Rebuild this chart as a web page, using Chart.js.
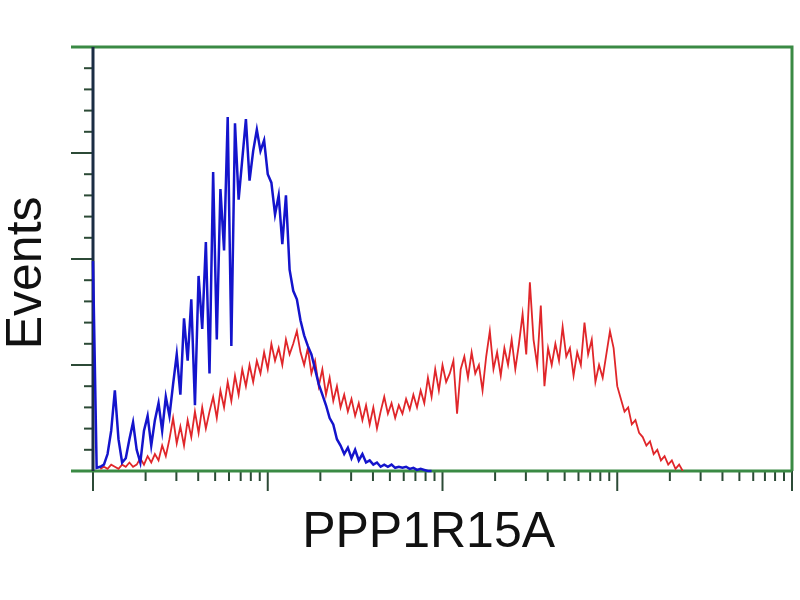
<!DOCTYPE html>
<html>
<head>
<meta charset="utf-8">
<script src="https://cdn.jsdelivr.net/npm/chart.js@4.4.1/dist/chart.umd.min.js"></script>
<style>
html,body{margin:0;padding:0;background:#fff;}
#wrap{width:800px;height:600px;}
</style>
</head>
<body>
<div id="wrap"><canvas id="facs" width="800" height="600"></canvas></div>
<script>
// histogram channels: 48 per decade, 4 decades
const channelsPerDecade = 48
const decades = [0, 1, 2, 3, 4]
const minorSteps = [2, 3, 4, 5, 6, 7, 8, 9]
const yMajor = [0, 50, 100, 150, 200]
const yMinorStep = 10

// control (blue), starts at channel 0
const blueStart = 0
const blueCounts = [99,1.5,2,3,8,19,38,15,4,6,
  15,23,10,4,19,26,12,24,32,19,
  35,26,41,55,36,72,52,81,31,92,
  67,108,46,141,62,133,104,167,59,164,
  128,147,166,137,151,161,151,156,140,136,
  121,130,107,130,95,85,81,71,64,59,
  55,48,41,36,31,25,22,15,12,8,
  11,6,10,5,8,4,5,3,4,2,
  3,2,3,1.5,2,1.5,2,1,1.5,0.5,
  1,0.5,0,0]

// PPP1R15A (red), starts at channel 2
const redStart = 2
const redCounts = [1,2,1,3,2,1,3,2,
  4,2,3,6,3,7,4,8,5,12,
  7,15,25,13,21,12,24,16,28,18,
  30,20,28,35,25,38,30,42,33,45,
  36,48,40,50,42,52,46,56,48,60,
  52,58,50,62,55,60,66,56,50,58,
  46,52,40,48,36,44,33,40,30,36,
  28,34,26,32,24,31,22,30,20,28,
  35,27,32,25,31,27,34,29,36,30,
  38,32,44,35,48,38,50,42,46,52,
  27,48,54,44,56,46,50,38,54,66,
  48,56,45,58,50,62,48,60,74,55,
  89,62,50,78,40,58,50,60,52,68,
  54,58,45,56,50,70,55,62,42,50,
  44,55,66,58,40,34,28,30,22,24,
  18,16,12,14,8,10,5,7,3,5,
  1,3,0]

const toPoints = (start, arr) => arr.map((v, i) => ({x: start + i, y: v}))

const frameGreen = '#3a8a44'
const tickColor = '#2c4a36'

const facsAxes = {
  id: 'facsAxes',
  beforeDatasetsDraw(chart) {
    const {ctx, chartArea: a, scales: {x, y}} = chart
    ctx.save()
    ctx.lineCap = 'butt'
    // x ticks (log decades)
    ctx.strokeStyle = tickColor
    ctx.lineWidth = 2
    decades.forEach(d => {
      const px = x.getPixelForValue(d * channelsPerDecade)
      ctx.beginPath(); ctx.moveTo(px, a.bottom); ctx.lineTo(px, a.bottom + 20); ctx.stroke()
      if (d === decades[decades.length - 1]) return
      minorSteps.forEach(m => {
        const mx = x.getPixelForValue((d + Math.log10(m)) * channelsPerDecade)
        ctx.beginPath(); ctx.moveTo(mx, a.bottom); ctx.lineTo(mx, a.bottom + 10); ctx.stroke()
      })
    })
    // y ticks
    for (let v = y.min; v <= y.max; v += yMinorStep) {
      const py = y.getPixelForValue(v)
      const len = yMajor.includes(v) ? 22 : 9
      ctx.beginPath(); ctx.moveTo(a.left - len, py); ctx.lineTo(a.left, py); ctx.stroke()
    }
    // frame
    ctx.lineWidth = 3
    ctx.strokeStyle = frameGreen
    ctx.beginPath()
    ctx.moveTo(a.left - 22, a.top); ctx.lineTo(a.right, a.top); ctx.lineTo(a.right, a.bottom)
    ctx.stroke()
    ctx.beginPath(); ctx.moveTo(a.left - 22, a.bottom); ctx.lineTo(a.right, a.bottom); ctx.stroke()
    ctx.strokeStyle = '#1b2d44'
    ctx.beginPath(); ctx.moveTo(a.left, a.top); ctx.lineTo(a.left, a.bottom); ctx.stroke()
    ctx.restore()
  }
}

new Chart(document.getElementById('facs'), {
  type: 'line',
  data: {
    datasets: [{
      label: 'Control',
      data: toPoints(blueStart, blueCounts),
      borderColor: '#1414cc',
      borderWidth: 2.5,
      pointRadius: 0,
      tension: 0,
      clip: false,
      order: 1
    }, {
      label: 'PPP1R15A',
      data: toPoints(redStart, redCounts),
      borderColor: '#e0262a',
      borderWidth: 1.8,
      pointRadius: 0,
      tension: 0,
      order: 2
    }]
  },
  options: {
    responsive: false,
    devicePixelRatio: 1,
    animation: false,
    layout: {padding: {top: 47, right: 8, left: 0, bottom: 0}},
    plugins: {legend: {display: false}, tooltip: {enabled: false}},
    scales: {
      x: {
        type: 'linear',
        min: 0,
        max: channelsPerDecade * 4,
        grid: {display: false, drawTicks: false},
        border: {display: false},
        ticks: {display: false},
        title: {
          display: true,
          text: 'PPP1R15A  ',
          color: '#111',
          font: {family: "'Liberation Sans', Arial, sans-serif", size: 50, lineHeight: 1},
          padding: {top: 37, bottom: 42}
        }
      },
      y: {
        min: 0,
        max: 200,
        grid: {display: false, drawTicks: false},
        border: {display: false},
        ticks: {display: false},
        title: {
          display: true,
          text: 'Events  ',
          color: '#111',
          font: {family: "'Liberation Sans', Arial, sans-serif", size: 50, lineHeight: 1},
          padding: {top: 2, bottom: 41}
        }
      }
    }
  },
  plugins: [facsAxes]
})
</script>
</body>
</html>
